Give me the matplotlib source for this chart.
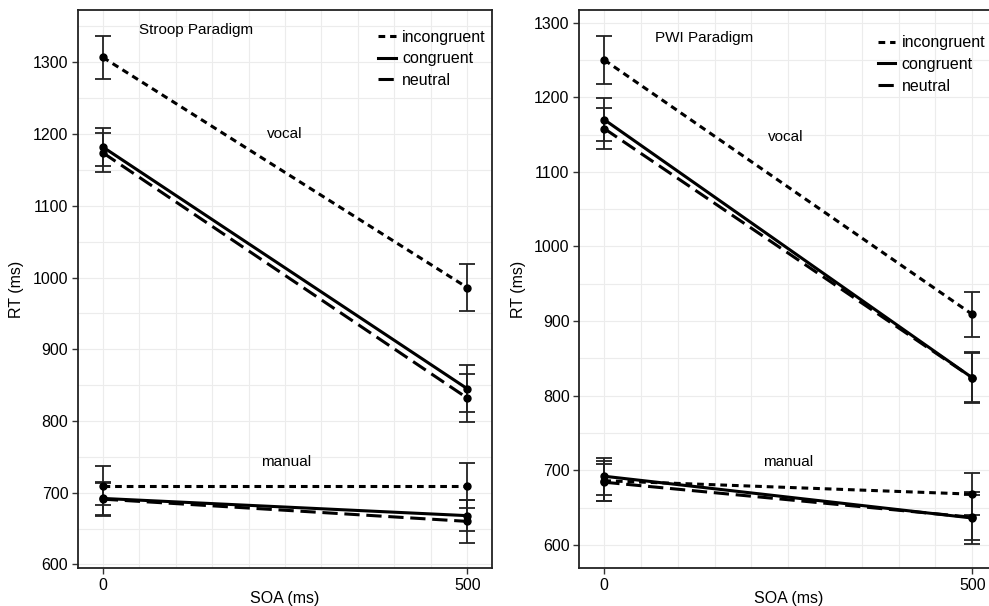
import matplotlib.pyplot as plt

plt.rcParams['font.family'] = ['Liberation Sans', 'DejaVu Sans']

soa = [0, 500]
conditions = ["incongruent", "congruent", "neutral"]
dash_styles = {"incongruent": (0, (2.2, 1.6)), "congruent": "-", "neutral": (0, (5, 2.2))}

# Stroop paradigm: means and error (half-width) per condition
stroop_vocal = {"incongruent": [1307, 986], "congruent": [1182, 845], "neutral": [1174, 832]}
stroop_vocal_err = {"incongruent": [30, 33], "congruent": [27, 33], "neutral": [27, 33]}
stroop_manual = {"incongruent": [710, 710], "congruent": [692, 668], "neutral": [691, 660]}
stroop_manual_err = {"incongruent": [27, 32], "congruent": [23, 22], "neutral": [23, 30]}

# PWI paradigm
pwi_vocal = {"incongruent": [1250, 909], "congruent": [1170, 824], "neutral": [1158, 824]}
pwi_vocal_err = {"incongruent": [32, 30], "congruent": [29, 34], "neutral": [27, 33]}
pwi_manual = {"incongruent": [686, 668], "congruent": [692, 636], "neutral": [684, 637]}
pwi_manual_err = {"incongruent": [27, 28], "congruent": [25, 35], "neutral": [25, 30]}

panels = [
    dict(title="Stroop Paradigm", vocal=stroop_vocal, vocal_err=stroop_vocal_err,
         manual=stroop_manual, manual_err=stroop_manual_err,
         rect=[0.0789, 0.0627, 0.4186, 0.9208], ylim=(595, 1373),
         title_xy=(50, 1345), vocal_xy=(249, 1200), manual_xy=(252, 743),
         legend_xy=(0.725, 0.965)),
    dict(title="PWI Paradigm", vocal=pwi_vocal, vocal_err=pwi_vocal_err,
         manual=pwi_manual, manual_err=pwi_manual_err,
         rect=[0.5857, 0.0627, 0.4227, 0.9208], ylim=(569, 1317),
         title_xy=(69, 1279), vocal_xy=(247, 1147), manual_xy=(250, 711),
         legend_xy=(0.714, 0.955)),
]

fig = plt.figure(figsize=(9.89, 6.06), dpi=100)

for p in panels:
    ax = fig.add_axes(p["rect"])
    ax.set_xticks([0, 500])
    ax.set_yticks(range(600, 1301, 100))
    ax.set_xticks(range(0, 501, 50), minor=True)
    ax.set_yticks(range(550, 1351, 50), minor=True)
    ax.set_xlim(-34, 534)
    ax.set_ylim(*p["ylim"])
    ax.grid(which="both", color="#ececec", linewidth=0.8)
    ax.set_axisbelow(True)
    ax.tick_params(which="major", length=4, width=1, labelsize=11.5, color="#333333", pad=3)
    ax.tick_params(which="minor", length=0)
    for s in ax.spines.values():
        s.set_linewidth(1.3)
        s.set_color("#222222")

    for cond in conditions:
        for block in ("vocal", "manual"):
            means = p[block][cond]
            errs = p[block + "_err"][cond]
            ax.errorbar(soa, means, yerr=errs, fmt="none", ecolor="#222222",
                        elinewidth=1.3, capsize=5.5, capthick=1.3, zorder=3)
            ax.plot(soa, means, linestyle=dash_styles[cond], color="black",
                    linewidth=2.2, marker="o", markersize=5, zorder=4,
                    label=cond if block == "vocal" else None)

    ax.text(p["title_xy"][0], p["title_xy"][1], p["title"], fontsize=11, va="center")
    ax.text(p["vocal_xy"][0], p["vocal_xy"][1], "vocal", fontsize=11, ha="center", va="center")
    ax.text(p["manual_xy"][0], p["manual_xy"][1], "manual", fontsize=11, ha="center", va="center")

    ax.set_xlabel("SOA (ms)", fontsize=11.5, labelpad=-1)
    ax.set_ylabel("RT (ms)", fontsize=11.5, labelpad=6)

    leg = ax.legend(loc="upper left", bbox_to_anchor=p["legend_xy"], frameon=False,
                    fontsize=11.5, handlelength=1.1, handletextpad=0.4,
                    labelspacing=0.42, borderaxespad=0, borderpad=0)
    for h in leg.legend_handles:
        h.set_marker("")

fig.savefig("out.png", dpi=100)
